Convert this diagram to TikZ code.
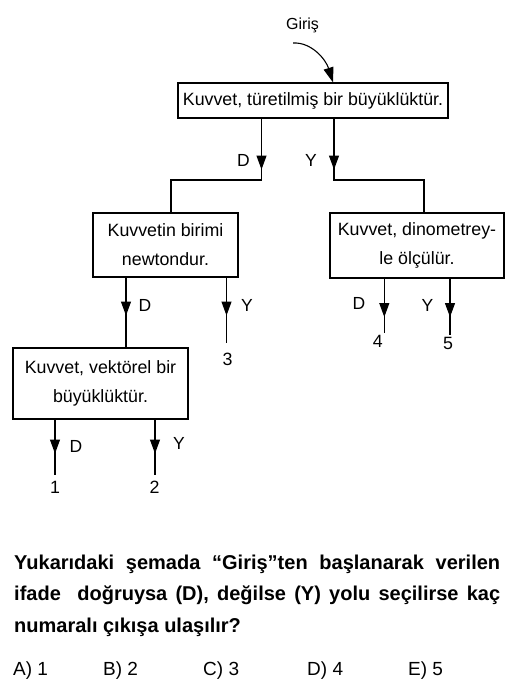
\documentclass[tikz,border=0pt]{standalone}
\usepackage{fontspec}
\setmainfont{Liberation Sans}
\usetikzlibrary{arrows.meta,decorations.markings}
\newcommand{\metin}{\fontsize{17.8}{29}\selectfont}
\newcommand{\etiket}{\fontsize{17.5}{20}\selectfont}
\newcommand{\soru}{\fontsize{20}{31.5}\selectfont\bfseries}
\newcommand{\secenek}{\fontsize{19}{22}\selectfont}
\tikzstyle{kutu} = [rectangle, draw=black, line width=1.1pt, inner sep=0pt, align=center, font=\metin]
\tikzstyle{cizgi} = [line width=1.1pt]
\tikzstyle{harf} = [inner sep=0pt, font=\etiket]
\tikzstyle{cikis} = [inner sep=0pt, font=\metin]
\tikzset{okcizgi/.style={cizgi, postaction={decorate},
  decoration={markings, mark=at position #1 with {\arrow{Triangle[width=10pt,length=14pt]}}}}}

\begin{document}
\begin{tikzpicture}[x=1pt,y=-1pt]
\useasboundingbox (0,0) rectangle (513,692);
\node (giris) [harf, anchor=base, font=\fontsize{16}{19}\selectfont] at (302.5,30) {Giriş};
\coordinate (girisucu) at (293,43);
\node (kuvvet) [kutu, minimum width=270pt, minimum height=35pt] at (313,100.5) {Kuvvet, türetilmiş bir büyüklüktür.};
\node (birim) [kutu, minimum width=145pt, minimum height=64pt] at (165.5,245) {Kuvvetin birimi\\newtondur.};
\node (dinamo) [kutu, minimum width=174pt, minimum height=65pt] at (417,245.5) {Kuvvet, dinometrey-\\le ölçülür.};
\node (vektor) [kutu, minimum width=175pt, minimum height=71pt] at (100.5,383.5) {Kuvvet, vektörel bir\\büyüklüktür.};
% cikislar
\node (bir) [cikis] at (55,487) {1};
\node (iki) [cikis] at (154.5,487) {2};
\node (uc) [cikis] at (227.5,359) {3};
\node (dort) [cikis] at (377.7,341.7) {4};
\node (bes) [cikis] at (448,343.3) {5};
% D ve Y etiketleri
\node (dk) [harf] at (243.5,160) {D};
\node (yk) [harf] at (311,160) {Y};
\node (db) [harf] at (145,305) {D};
\node (yb) [harf] at (247,305) {Y};
\node (dd) [harf] at (359,303) {D};
\node (yd) [harf] at (427.5,305) {Y};
\node (dv) [harf] at (76,446) {D};
\node (yv) [harf] at (179,443.5) {Y};
\draw[cizgi, -{Triangle[width=10pt,length=15pt]}] (girisucu) .. controls (312,42) and (326,60) .. ([xshift=20pt]kuvvet.north);
\draw[okcizgi=51pt] ([xshift=-51.5pt]kuvvet.south) -- ++(0,61.5) -| ([xshift=5.5pt]birim.north);
\draw[okcizgi=51pt] ([xshift=21pt]kuvvet.south) -- ++(0,61.5) -| ([xshift=7pt]dinamo.north);
\draw[okcizgi=38pt] ([xshift=-39.5pt]birim.south) -- ([xshift=25.5pt]vektor.north);
\draw[okcizgi=38pt] ([xshift=61pt]birim.south) -- ([xshift=-1pt,yshift=9.8pt]uc.north);
\draw[okcizgi=38.5pt] ([xshift=-32.7pt]dinamo.south) -- ([xshift=6.6pt,yshift=2.2pt]dort.north);
\draw[okcizgi=38.5pt] ([xshift=33pt]dinamo.south) -- ([xshift=2pt,yshift=2.1pt]bes.north);
\draw[okcizgi=34pt] ([xshift=-45.5pt]vektor.south) -- ([yshift=5.8pt]bir.north);
\draw[okcizgi=34pt] ([xshift=54.5pt]vektor.south) -- ([xshift=0.5pt,yshift=5.8pt]iki.north);
% soru
\node (soru) [anchor=base west, inner sep=0pt, text width=486pt, align=justify, font=\soru] at (14,569)
{Yukarıdaki şemada “Giriş”ten başlanarak verilen\linebreak
ifade \ doğruysa (D), değilse (Y) yolu seçilirse kaç\linebreak
numaralı çıkışa ulaşılır?};
\node (a) [anchor=base west, inner sep=0pt, font=\secenek] at (13,675) {A) 1};
\node (b) [anchor=base west, inner sep=0pt, font=\secenek] at (103,675) {B) 2};
\node (c) [anchor=base west, inner sep=0pt, font=\secenek] at (203,675) {C) 3};
\node (d) [anchor=base west, inner sep=0pt, font=\secenek] at (307,675) {D) 4};
\node (e) [anchor=base west, inner sep=0pt, font=\secenek] at (408,675) {E) 5};
\end{tikzpicture}
\end{document}
